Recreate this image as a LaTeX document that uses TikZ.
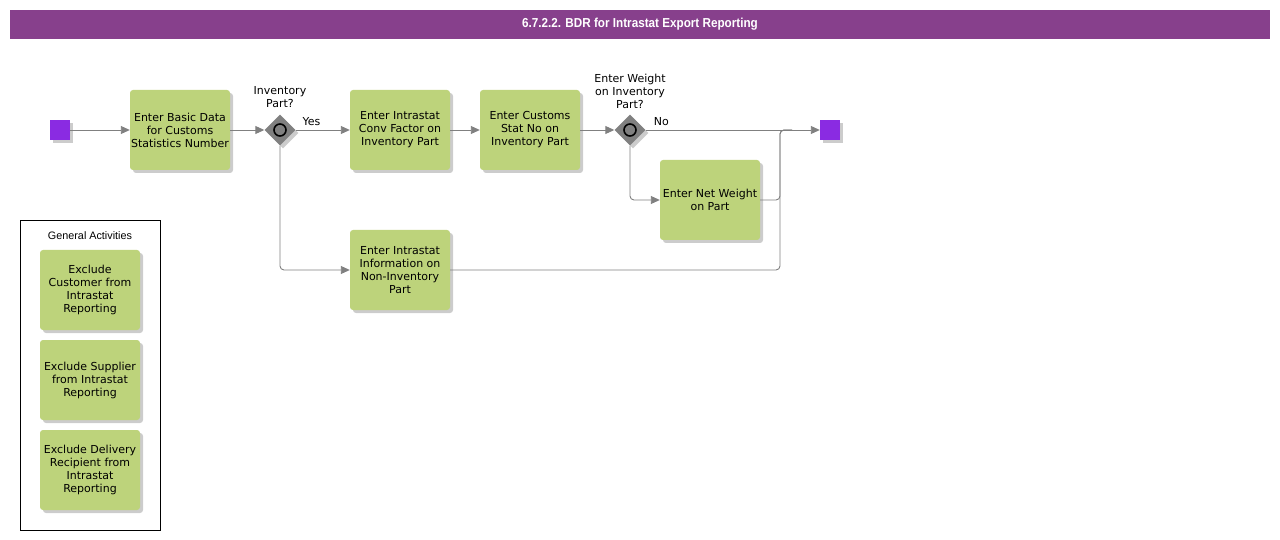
\documentclass[tikz,border=0pt]{standalone}
\usepackage{fontspec}
\setmainfont{DejaVu Sans}
\newfontfamily\labelfont{Liberation Sans}
\newfontfamily\titlefont[FakeStretch=0.9]{Liberation Sans}
\usetikzlibrary{positioning,shapes.geometric,shadows,arrows.meta}

\definecolor{taskgreen}{RGB}{189,211,123}
\definecolor{titlepurple}{RGB}{135,64,140}
\definecolor{eventpurple}{RGB}{138,43,226}
\definecolor{flowgray}{RGB}{128,128,128}

\tikzset{
    shade/.style={drop shadow={shadow xshift=3pt, shadow yshift=-3pt, fill=black!20, opacity=1}},
    task/.style={fill=taskgreen, rounded corners=3pt, minimum width=100pt, minimum height=80pt,
        align=center, inner sep=0pt, font=\fontsize{11}{13}\selectfont, shade},
    event/.style={fill=eventpurple, minimum size=20pt, inner sep=0pt, shade},
    gateway/.style={diamond, fill=flowgray, minimum size=31pt, inner sep=0pt, shade},
    ring/.style={circle, draw=black, line width=1.6pt, fill=flowgray, minimum size=12pt, inner sep=0pt},
    gatelabel/.style={align=center, font=\fontsize{11}{13}\selectfont, inner sep=0pt},
    flowlabel/.style={font=\fontsize{11}{13}\selectfont, inner sep=0pt, above=4pt},
    flow/.style={draw=flowgray, line width=0.9pt, rounded corners=4pt, -{Triangle[length=9pt, width=8pt]}},
    joinline/.style={draw=flowgray, line width=0.9pt, rounded corners=4pt}
}

\begin{document}
\begin{tikzpicture}[x=1pt, y=-1pt]
    \useasboundingbox (0,0) rectangle (1280,540);

    % title bar
    \node[fill=titlepurple, minimum width=1260pt, minimum height=29pt, inner sep=0pt,
        text=white, font=\titlefont\bfseries\fontsize{13}{15}\selectfont] (title) at (640,24.5)
        {6.7.2.2. BDR for Intrastat Export Reporting};

    % main flow
    \node[event] (start) at (60,130) {};
    \node[task] (basic) at (180,130) {Enter Basic Data\\for Customs\\Statistics Number};
    \node[gateway] (invgate) at (280,130) {};
    \node[ring] (invring) at (280,130) {};
    \node[gatelabel] (invlabel) at (280,97.5) {Inventory\\Part?};
    \node[task] (convfactor) at (400,130) {Enter Intrastat\\Conv Factor on\\Inventory Part};
    \node[task] (statno) at (530,130) {Enter Customs\\Stat No on\\Inventory Part};
    \node[gateway] (wgate) at (630,130) {};
    \node[ring] (wring) at (630,130) {};
    \node[gatelabel] (wlabel) at (630,91) {Enter Weight\\on Inventory\\Part?};
    \node[event] (finish) at (830,130) {};
    \node[task] (netweight) at (710,200) {Enter Net Weight\\on Part};
    \node[task] (noninv) at (400,270) {Enter Intrastat\\Information on\\Non-Inventory\\Part};
    \coordinate (merge) at (780,130);

    % connectors
    \draw[flow] (start) -- (basic);
    \draw[flow] (basic) -- (invgate);
    \draw[flow] (invgate) -- node[flowlabel, pos=0.29] (yes) {Yes} (convfactor);
    \draw[flow] (convfactor) -- (statno);
    \draw[flow] (statno) -- (wgate);
    \draw[flow] (wgate) -- node[flowlabel, pos=0.09] (no) {No} (finish);
    \draw[flow] (invgate.south) |- (noninv.west);
    \draw[flow] (wgate.south) |- (netweight.west);
    \draw[joinline] (netweight.east) -| (merge) -- ++(12,0);
    \draw[joinline] (noninv.east) -| (merge) -- ++(12,0);

    % general activities
    \node[draw=black, line width=0.6pt, minimum width=140pt, minimum height=310pt, inner sep=0pt] (general) at (90,375) {};
    \node[font=\labelfont\fontsize{10.8}{12}\selectfont] (generaltitle) at (90,236) {General Activities};
    \node[task] (excust) at (90,290) {Exclude\\Customer from\\Intrastat\\Reporting};
    \node[task] (exsupp) at (90,380) {Exclude Supplier\\from Intrastat\\Reporting};
    \node[task] (exdeliv) at (90,470) {Exclude Delivery\\Recipient from\\Intrastat\\Reporting};
\end{tikzpicture}
\end{document}
